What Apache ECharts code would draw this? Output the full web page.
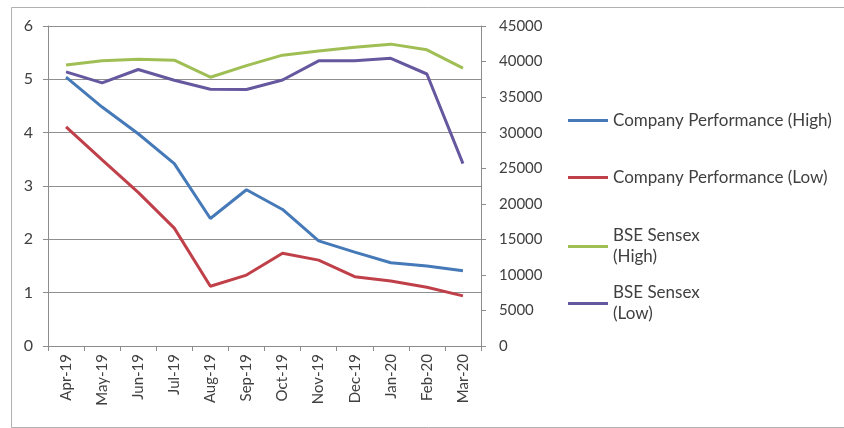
<!DOCTYPE html>
<html>
<head>
<meta charset="utf-8">
<script src="https://cdn.jsdelivr.net/npm/echarts@6/dist/echarts.min.js"></script>
<style>
html,body{margin:0;padding:0;background:#fff;}
#chart{width:844px;height:428px;}
</style>
</head>
<body>
<div id="chart"></div>
<script>
const months = ['Apr-19','May-19','Jun-19','Jul-19','Aug-19','Sep-19','Oct-19','Nov-19','Dec-19','Jan-20','Feb-20','Mar-20'];
const companyHigh = [5.04, 4.48, 3.98, 3.42, 2.39, 2.93, 2.56, 1.97, 1.76, 1.56, 1.50, 1.41];
const companyLow  = [4.11, 3.49, 2.88, 2.21, 1.12, 1.33, 1.74, 1.61, 1.30, 1.22, 1.10, 0.94];
const sensexHigh  = [39500, 40120, 40310, 40200, 37800, 39420, 40900, 41500, 42000, 42450, 41650, 39080];
const sensexLow   = [38550, 37000, 38880, 37380, 36100, 36080, 37400, 40100, 40120, 40450, 38250, 25650];
const leftTicks = [0, 6, 1];
const rightTicks = [0, 45000, 5000];

const names = ['Company Performance (High)','Company Performance (Low)','BSE Sensex (High)','BSE Sensex (Low)'];
const colors = ['#4579b8','#c0404a','#9fbf55','#66589f'];
const font = 'Lato, "Open Sans", sans-serif';

const chart = echarts.init(document.getElementById('chart'));
function legendFor(i, top, twoLine) {
  return {
    orient: 'vertical', left: 563, top: top,
    data: [names[i]],
    icon: 'rect', itemWidth: 40, itemHeight: 3, itemGap: 0,
    selectedMode: false,
    formatter: twoLine ? (n) => n.replace(' (', '\n(') : undefined,
    textStyle: {
      fontFamily: font, fontSize: 17, color: '#404040',
      lineHeight: 21, padding: twoLine ? [21, 0, 0, 0] : 0
    }
  };
}
chart.setOption({
  animation: false,
  backgroundColor: '#fff',
  textStyle: { fontFamily: font },
  graphic: [{
    type: 'rect', left: 9, top: 5, silent: true,
    shape: { width: 840, height: 420 },
    style: { fill: 'none', stroke: '#b0b0b0', lineWidth: 1 }
  }],
  legend: [
    legendFor(0, 105, false),
    legendFor(1, 162, false),
    legendFor(2, 210, true),
    legendFor(3, 267, true)
  ],
  grid: { left: 48, right: 363, top: 26, bottom: 82 },
  xAxis: {
    type: 'category', data: months, boundaryGap: true,
    axisLine: { lineStyle: { color: '#8c8c8c', width: 1 } },
    axisTick: { show: true, alignWithLabel: false, length: 5, lineStyle: { color: '#8c8c8c' } },
    axisLabel: { rotate: 90, fontSize: 15, color: '#404040', margin: 8, fontFamily: font, interval: 0 }
  },
  yAxis: [{
    type: 'value', min: leftTicks[0], max: leftTicks[1], interval: leftTicks[2],
    axisLine: { show: true, lineStyle: { color: '#8c8c8c' } },
    axisTick: { show: true, length: 5, lineStyle: { color: '#8c8c8c' } },
    axisLabel: { fontSize: 16, color: '#404040', margin: 15, fontFamily: font },
    splitLine: { show: true, lineStyle: { color: '#8f8f8f', width: 1 } }
  }, {
    type: 'value', min: rightTicks[0], max: rightTicks[1], interval: rightTicks[2],
    position: 'right',
    axisLine: { show: true, lineStyle: { color: '#8c8c8c' } },
    axisTick: { show: true, length: 5, lineStyle: { color: '#8c8c8c' } },
    axisLabel: { fontSize: 15, color: '#404040', margin: 18, fontFamily: font, formatter: (v) => String(v) },
    splitLine: { show: false }
  }],
  series: [
    { name: names[0], type: 'line', yAxisIndex: 0, data: companyHigh, symbol: 'none', lineStyle: { width: 3, color: colors[0] }, itemStyle: { color: colors[0] } },
    { name: names[1], type: 'line', yAxisIndex: 0, data: companyLow, symbol: 'none', lineStyle: { width: 3, color: colors[1] }, itemStyle: { color: colors[1] } },
    { name: names[2], type: 'line', yAxisIndex: 1, data: sensexHigh, symbol: 'none', lineStyle: { width: 3, color: colors[2] }, itemStyle: { color: colors[2] } },
    { name: names[3], type: 'line', yAxisIndex: 1, data: sensexLow, symbol: 'none', lineStyle: { width: 3, color: colors[3] }, itemStyle: { color: colors[3] } }
  ]
});
</script>
</body>
</html>
